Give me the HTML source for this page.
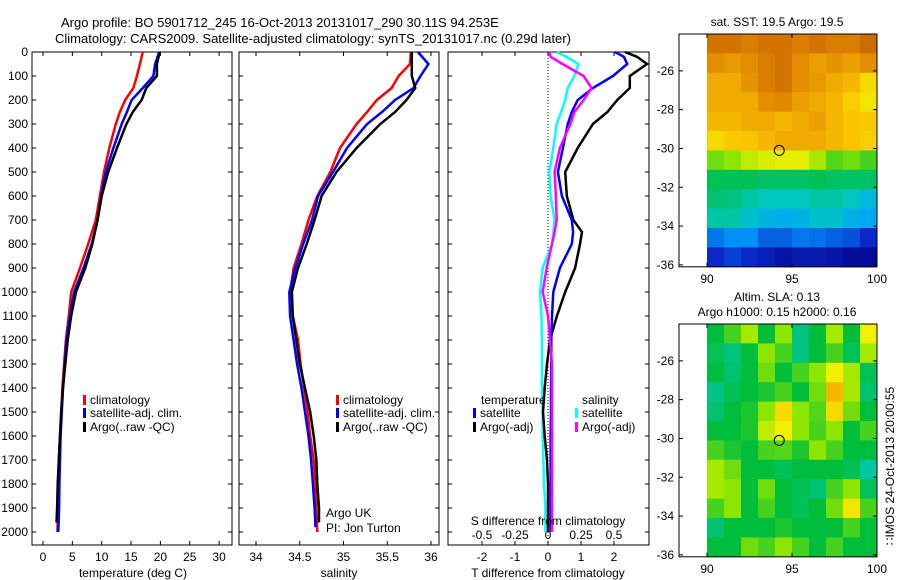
<!DOCTYPE html>
<html><head><meta charset="utf-8"><style>
html,body{margin:0;padding:0;background:#fff;}
svg{display:block;font-family:"Liberation Sans",sans-serif;}
text{font-size:12px;fill:#000;}
</style></head><body>
<svg id="fig" width="900" height="580" viewBox="0 0 900 580">
<text x="61" y="27" style="font-size:13px">Argo profile: BO 5901712_245 16-Oct-2013 20131017_290 30.11S 94.253E</text>
<text x="55" y="43" style="font-size:13px">Climatology: CARS2009. Satellite-adjusted climatology: synTS_20131017.nc (0.29d later)</text>
<g id="g"></g>
</svg>
<script>
// ---- data ----
const depths = [0,50,100,150,200,250,300,400,500,600,700,800,900,1000,1100,1200,1300,1400,1500,1600,1700,1800,1900,2000];
const tempClim = [17.0,16.5,16.0,15.4,14.0,13.1,12.4,11.3,10.4,9.7,9.0,7.7,6.3,4.8,4.4,3.9,3.6,3.3,3.1,2.9,2.7,2.65,2.55,2.45];
const tempSat  = [19.8,19.1,18.8,17.0,15.1,14.3,13.4,12.0,10.7,9.9,9.3,8.3,6.9,5.3,4.6,4.0,3.7,3.4,3.2,3.0,2.9,2.8,2.75,2.6];
const tempArgo = [19.9,19.4,19.4,17.6,16.8,15.3,14.2,12.6,11.1,10.0,9.3,8.4,7.2,5.6,4.8,4.2,3.8,3.4,3.1,2.9,2.7,2.5,2.4,2.3];
const salClim = [35.77,35.76,35.63,35.55,35.38,35.27,35.15,34.96,34.85,34.70,34.60,34.52,34.43,34.39,34.42,34.48,34.51,34.55,34.59,34.62,34.66,34.68,34.69,34.70];
const salSat  = [35.85,35.97,35.88,35.80,35.59,35.44,35.27,35.04,34.88,34.71,34.64,34.54,34.45,34.38,34.39,34.43,34.47,34.52,34.56,34.60,34.63,34.65,34.67,34.68];
const salArgo = [35.78,35.78,35.78,35.82,35.72,35.59,35.42,35.15,34.92,34.75,34.67,34.58,34.48,34.41,34.42,34.46,34.50,34.56,34.62,34.66,34.69,34.70,34.72,34.72];
const diffDepths = [0,20,50,100,150,200,250,300,400,500,600,700,750,800,900,1000,1100,1200,1300,1400,1500,1600,1700,1800,1900,2000];
const dTsat  = [2.03,2.3,2.4,1.97,1.36,0.9,0.72,0.6,0.45,0.3,0.42,0.72,0.76,0.72,0.36,0.16,0.12,0.1,0.1,0.09,0.09,0.08,0.08,0.08,0.08,0.08];
const dTargo = [2.33,2.7,3.0,2.48,2.48,2.1,1.8,1.36,0.9,0.52,0.57,0.77,1.03,0.97,0.82,0.52,0.27,0.06,-0.03,-0.1,-0.15,-0.1,-0.03,0.0,0.0,0.0];
const dSsat  = [0.066,0.14,0.23,0.2,0.15,0.13,0.1,0.066,0.04,0.01,0.02,0.05,0.04,0.03,-0.04,-0.06,-0.05,-0.045,-0.045,-0.045,-0.04,-0.04,-0.035,-0.03,-0.02,-0.02];
const dSargo = [0.01,0.02,0.11,0.27,0.33,0.27,0.2,0.17,0.09,0.05,0.06,0.066,0.05,0.03,-0.01,-0.04,0.0,0.015,0.03,0.03,0.03,0.03,0.03,0.03,0.03,0.03];
const sstGrid = [
[0.9,0.9,0.88,0.9,0.9,0.88,0.9,0.88,0.88,0.92],
[0.85,0.83,0.85,0.88,0.9,0.85,0.82,0.84,0.82,0.85],
[0.8,0.8,0.84,0.88,0.9,0.85,0.83,0.8,0.78,0.72],
[0.8,0.8,0.8,0.85,0.86,0.82,0.8,0.78,0.74,0.7],
[0.78,0.78,0.8,0.8,0.78,0.8,0.82,0.78,0.76,0.75],
[0.72,0.75,0.76,0.78,0.8,0.8,0.8,0.78,0.76,0.74],
[0.58,0.6,0.64,0.66,0.67,0.67,0.62,0.56,0.58,0.55],
[0.48,0.48,0.48,0.47,0.47,0.47,0.48,0.47,0.47,0.47],
[0.46,0.45,0.42,0.4,0.4,0.4,0.42,0.42,0.4,0.36],
[0.42,0.42,0.38,0.35,0.33,0.34,0.38,0.38,0.34,0.32],
[0.25,0.28,0.28,0.22,0.22,0.25,0.24,0.22,0.2,0.15],
[0.15,0.18,0.15,0.12,0.08,0.1,0.1,0.08,0.05,0.05]];
const slaGrid = [
[0.5,0.55,0.62,0.5,0.6,0.45,0.5,0.62,0.5,0.68],
[0.48,0.45,0.5,0.6,0.55,0.45,0.5,0.55,0.48,0.62],
[0.5,0.46,0.5,0.58,0.5,0.55,0.6,0.68,0.62,0.48],
[0.44,0.48,0.5,0.52,0.55,0.5,0.58,0.78,0.62,0.46],
[0.46,0.5,0.52,0.6,0.72,0.6,0.56,0.72,0.58,0.5],
[0.5,0.5,0.52,0.64,0.68,0.6,0.55,0.6,0.5,0.55],
[0.55,0.52,0.5,0.55,0.56,0.52,0.6,0.55,0.5,0.5],
[0.62,0.58,0.5,0.5,0.48,0.5,0.5,0.5,0.48,0.42],
[0.62,0.6,0.5,0.58,0.5,0.48,0.46,0.55,0.6,0.48],
[0.55,0.6,0.5,0.55,0.5,0.48,0.5,0.58,0.7,0.55],
[0.46,0.5,0.5,0.5,0.52,0.5,0.5,0.5,0.55,0.5],
[0.5,0.5,0.58,0.55,0.6,0.55,0.5,0.55,0.5,0.5]];
const depthTicks = [0,100,200,300,400,500,600,700,800,900,1000,1100,1200,1300,1400,1500,1600,1700,1800,1900,2000];
const tempTicks = [0,5,10,15,20,25,30];
const salTicks = [34,34.5,35,35.5,36];
const salTickLabels = ["34","34.5","35","35.5","36"];
const dTTicks = [-2,-1,0,1,2];
const dSTicks = [-0.5,-0.25,0,0.25,0.5];
const dSTickLabels = ["-0.5","-0.25","0","0.25","0.5"];
const latTicks = [-26,-28,-30,-32,-34,-36];
const lonTicks = [90,95,100];
const argoLon = 94.25, argoLat = -30.1;

// ---- helpers ----
const NS="http://www.w3.org/2000/svg";
const G=document.getElementById('g');
function mk(tag,attrs,parent){const e=document.createElementNS(NS,tag);for(const k in attrs)e.setAttribute(k,attrs[k]);(parent||G).appendChild(e);return e;}
function txt(x,y,s,anchor,size){const t=mk('text',{x:x,y:y,'text-anchor':anchor||'start'});if(size)t.style.fontSize=size+'px';t.textContent=s;return t;}
const yDepth = d => 52 + d*0.24;
const PB = 545;
const xT = v => 43 + v*5.87;
const xS = v => 256 + (v-34)*87.5;
const xDT = v => Math.min(649, Math.max(448, 548 + v*33));
const xDS = v => Math.min(649, Math.max(448, 548 + v*132));

function frame(x0,x1,name){
  const r=mk('rect',{x:x0,y:52,width:x1-x0,height:PB-52,fill:'none',stroke:'#000','stroke-width':1});
  
  
}
function yTicks(x0,x1,labels){
  depthTicks.forEach(d=>{const y=yDepth(d);
    mk('line',{x1:x0,y1:y,x2:x0+4,y2:y,stroke:'#000'});
    mk('line',{x1:x1,y1:y,x2:x1-4,y2:y,stroke:'#000'});
    if(labels){const t=txt(x0-4,y+4,String(d),'end');
      
      }
  });
}
function xTicks(vals,fx,labs){
  vals.forEach((v,i)=>{const x=fx(v);
    mk('line',{x1:x,y1:PB,x2:x,y2:PB-4,stroke:'#000'});
    mk('line',{x1:x,y1:52,x2:x,y2:56,stroke:'#000'});
    const t=txt(x,561,labs?labs[i]:String(v),'middle');
    
    
  });
}
function line(xs,ds,fx,color,name){
  const pts=xs.map((v,i)=>fx(v).toFixed(1)+','+yDepth(ds[i]).toFixed(1)).join(' ');
  const p=mk('polyline',{points:pts,fill:'none',stroke:color,'stroke-width':2.5,'stroke-linejoin':'miter'});
  
  
}
function legend(x,y,color,label,name){
  const r=mk('rect',{x:x,y:y-9,width:3,height:10,fill:color});
  
  
  const t=txt(x+7,y,label);
  
  
}

// ---- panel 1: temperature ----
frame(32,232,'temperature-axes');
yTicks(32,232,true);
xTicks(tempTicks,xT);
line(tempClim,depths,xT,'#ff0000','temp-climatology-line');
line(tempSat,depths,xT,'#0000ff','temp-satellite-line');
line(tempArgo,depths.slice(0,23).concat([1960]),xT,'#000000','temp-argo-line');
let t=txt(133,577,'temperature (deg C)','middle');


legend(83,404,'#ff0000','climatology','legend-climatology');
legend(83,417,'#0000ff','satellite-adj. clim.','legend-satellite-adj');
legend(83,431,'#000000','Argo(..raw -QC)','legend-argo');

// ---- panel 2: salinity ----
frame(239,439,'salinity-axes');
yTicks(239,439,false);
xTicks(salTicks,xS,salTickLabels);
line(salClim,depths,xS,'#ff0000','sal-climatology-line');
line(salSat,depths.slice(0,23).concat([1980]),xS,'#0000ff','sal-satellite-line');
line(salArgo,depths.slice(0,23).concat([1960]),xS,'#000000','sal-argo-line');
t=txt(339,577,'salinity','middle');


legend(336,404,'#ff0000','climatology','legend2-climatology');
legend(336,417,'#0000ff','satellite-adj. clim.','legend2-satellite-adj');
legend(336,431,'#000000','Argo(..raw -QC)','legend2-argo');
t=txt(326,517,'Argo UK');  
t=txt(326,532,'PI: Jon Turton');  

// ---- panel 3: differences ----
frame(448,649,'difference-axes');
depthTicks.forEach(d=>{const y=yDepth(d);mk('line',{x1:448,y1:y,x2:452,y2:y,stroke:'#000'});mk('line',{x1:649,y1:y,x2:645,y2:y,stroke:'#000'});});
dTTicks.forEach(v=>{const x=xDT(v);mk('line',{x1:x,y1:PB,x2:x,y2:PB-4,stroke:'#000'});mk('line',{x1:x,y1:52,x2:x,y2:56,stroke:'#000'});
  const tt=txt(x,561,String(v),'middle');});
dSTicks.forEach((v,i)=>{const tt=txt(xDS(v),539,dSTickLabels[i],'middle');});
mk('line',{x1:548,y1:52,x2:548,y2:PB,stroke:'#000','stroke-dasharray':'1,2','stroke-width':1});
line(dSsat,diffDepths,xDS,'#00ffff','dS-satellite-line');
line(dTargo,diffDepths,xDT,'#000000','dT-argo-line');
line(dTsat,diffDepths,xDT,'#0000ff','dT-satellite-line');
line(dSargo,diffDepths,xDS,'#ff00ff','dS-argo-line');
t=txt(548,577,'T difference from climatology','middle');


t=txt(548,525,'S difference from climatology','middle');


t=txt(481,404,'temperature');  
t=txt(582,404,'salinity');  
legend(473,417,'#0000ff','satellite','legend-t-satellite');
legend(473,431,'#000000','Argo(-adj)','legend-t-argo');
legend(575,417,'#00ffff','satellite','legend-s-satellite');
legend(575,431,'#ff00ff','Argo(-adj)','legend-s-argo');

// ---- maps ----
const stops=[[0,[0,0,130]],[0.15,[10,40,200]],[0.3,[0,160,255]],[0.4,[0,200,190]],[0.5,[0,190,60]],[0.6,[140,230,0]],[0.68,[240,240,0]],[0.76,[250,195,0]],[0.86,[225,135,0]],[1,[175,70,0]]];
function cmap(v){for(let i=1;i<stops.length;i++){if(v<=stops[i][0]){const a=stops[i-1],b=stops[i];const f=(v-a[0])/(b[0]-a[0]);const c=a[1].map((q,k)=>Math.round(q+(b[1][k]-q)*f));return 'rgb('+c.join(',')+')';}}return 'rgb(175,70,0)';}
function drawMap(top,grid,name){
  const xL=lon=>707+(lon-90)*17;
  const yL=lat=>top+(-24.1-lat)*19.4;
  const bottom=yL(-36.1);
  grid.forEach((row,r)=>row.forEach((v,c)=>{
    const x0=xL(90+c), y0=yL(-24.1-r);
    const cell=mk('rect',{x:x0,y:y0,width:17.5,height:19.9,fill:cmap(v)});
    
    
  }));
  const fr=mk('rect',{x:679,y:top,width:198,height:bottom-top,fill:'none',stroke:'#000'});
  
  
  latTicks.forEach(l=>{const y=yL(l);mk('line',{x1:679,y1:y,x2:683,y2:y,stroke:'#000'});mk('line',{x1:877,y1:y,x2:873,y2:y,stroke:'#000'});
    const tt=txt(674,y+4,String(l),'end');});
  lonTicks.forEach(l=>{const x=xL(l);mk('line',{x1:x,y1:bottom,x2:x,y2:bottom-4,stroke:'#000'});mk('line',{x1:x,y1:top,x2:x,y2:top+4,stroke:'#000'});
    const tt=txt(x,bottom+16,String(l),'middle');});
  const c=mk('circle',{cx:xL(argoLon),cy:yL(argoLat),r:5,fill:'none',stroke:'#000','stroke-width':1});
  
  
}
drawMap(34,sstGrid,'sst-map');
drawMap(324,slaGrid,'sla-map');
t=txt(777,26,'sat. SST: 19.5 Argo: 19.5','middle');  
t=txt(777,301,'Altim. SLA: 0.13','middle');  
t=txt(777,316,'Argo h1000: 0.15 h2000: 0.16','middle');  
t=txt(0,0,'\u2237IMOS 24-Oct-2013 20:00:55','middle');
t.setAttribute('transform','translate(894,466) rotate(-90)');


</script>
</body></html>
